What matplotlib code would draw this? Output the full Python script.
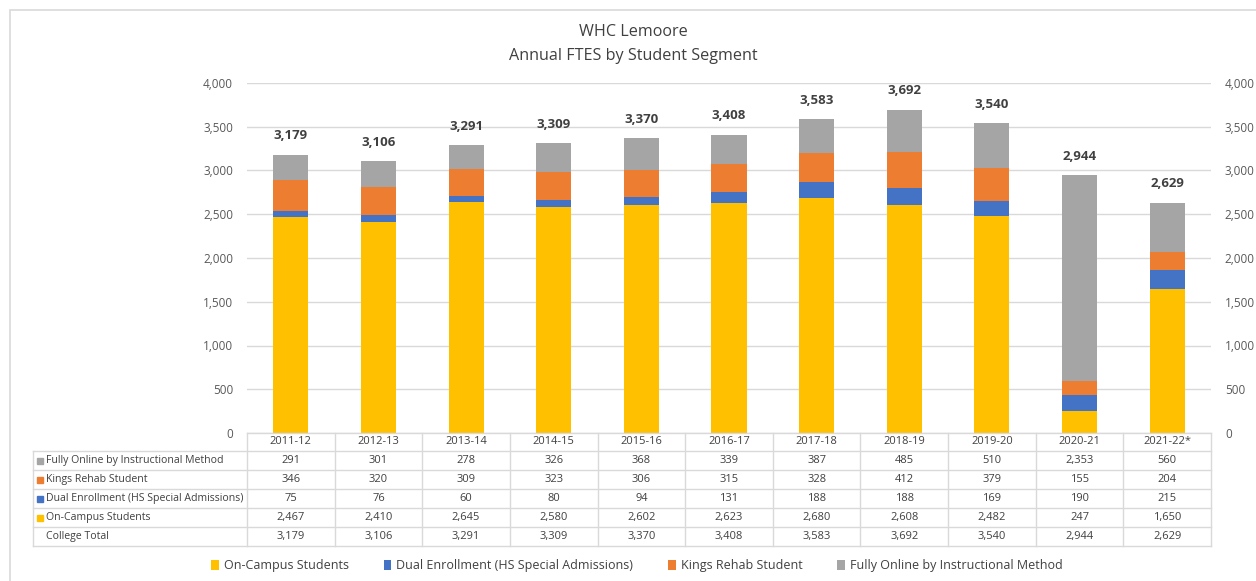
import matplotlib
matplotlib.use("Agg")
import matplotlib.pyplot as plt
from matplotlib.transforms import blended_transform_factory
from matplotlib.patches import Rectangle
import numpy as np

plt.rcParams['font.family'] = ['Open Sans', 'DejaVu Sans']

years = ["2011-12", "2012-13", "2013-14", "2014-15", "2015-16", "2016-17",
         "2017-18", "2018-19", "2019-20", "2020-21", "2021-22*"]
on_campus = [2467, 2410, 2645, 2580, 2602, 2623, 2680, 2608, 2482, 247, 1650]
dual = [75, 76, 60, 80, 94, 131, 188, 188, 169, 190, 215]
kings = [346, 320, 309, 323, 306, 315, 328, 412, 379, 155, 204]
online = [291, 301, 278, 326, 368, 339, 387, 485, 510, 2353, 560]
totals = [3179, 3106, 3291, 3309, 3370, 3408, 3583, 3692, 3540, 2944, 2629]

series_names = ["On-Campus Students", "Dual Enrollment (HS Special Admissions)",
                "Kings Rehab Student", "Fully Online by Instructional Method"]
colors = ["#FFC000", "#4472C4", "#ED7D31", "#A5A5A5"]
yticks = [0, 500, 1000, 1500, 2000, 2500, 3000, 3500, 4000]

W, H = 1256, 581
fig = plt.figure(figsize=(W / 100, H / 100), dpi=100)

def fx(px):
    return px / W

def fy(py):
    return 1 - py / H

# outer chart border (left & top visible)
fig.patches.append(Rectangle((fx(10), fy(600)), fx(1300), fy(10) - fy(600),
                             transform=fig.transFigure, fill=False,
                             edgecolor="#D9D9D9", linewidth=1.2))

ax = fig.add_axes([fx(247), fy(433), fx(1211) - fx(247), fy(83) - fy(433)])
n = len(years)
x = np.arange(n)
data = [on_campus, dual, kings, online]
bottom = np.zeros(n)
for vals, c, name in zip(data, colors, series_names):
    ax.bar(x, vals, width=0.4, bottom=bottom, color=c, label=name, zorder=3)
    bottom += np.array(vals)

for xi, t in zip(x, totals):
    ax.annotate(f"{t:,}", (xi, t), xytext=(0, 9), textcoords="offset points",
                ha="center", va="bottom", fontsize=9.5, fontweight="bold",
                color="#404040")

ax.set_xlim(-0.5, n - 0.5)
ax.set_ylim(0, 4000)
ax.set_yticks(yticks)
ax.set_yticklabels([f"{v:,}" for v in yticks])
ax.yaxis.grid(True, color="#D9D9D9", linewidth=1, zorder=0)
ax.tick_params(axis="y", length=0, labelsize=8.5, labelcolor="#595959", pad=10)
ax.set_xticks([])
for s in ax.spines.values():
    s.set_visible(False)

ax2 = ax.twinx()
ax2.set_ylim(0, 4000)
ax2.set_yticks(yticks)
ax2.set_yticklabels([f"{v:,}" for v in yticks])
ax2.tick_params(axis="y", length=0, labelsize=8.5, labelcolor="#595959", pad=10)
for s in ax2.spines.values():
    s.set_visible(False)

fig.text(fx(633), fy(32), "WHC Lemoore", ha="center", va="center", fontsize=11.6,
         color="#404040")
fig.text(fx(633), fy(56), "Annual FTES by Student Segment", ha="center", va="center",
         fontsize=11.6, color="#404040")

# data table
tr = blended_transform_factory(ax.transData, fig.transFigure)
line_c = "#D9D9D9"
row_lines = [433, 451, 470, 489, 508, 527, 546]
lc = dict(color=line_c, linewidth=1, clip_on=False)
fig.add_artist(plt.Line2D([fx(247), fx(1211)], [fy(433), fy(433)],
                          transform=fig.transFigure, **lc))
for py in row_lines[1:]:
    fig.add_artist(plt.Line2D([fx(33), fx(1211)], [fy(py), fy(py)],
                              transform=fig.transFigure, **lc))
for b in np.arange(n + 1) - 0.5:
    fig.add_artist(plt.Line2D([b, b], [fy(433), fy(546)], transform=tr, **lc))
fig.add_artist(plt.Line2D([fx(33), fx(33)], [fy(451), fy(546)],
                          transform=fig.transFigure, **lc))

txt_c = "#404040"
for xi, yr in zip(x, years):
    fig.text(xi, fy(442), yr, transform=tr, ha="center", va="center",
             fontsize=8, color=txt_c)

table_rows = [("Fully Online by Instructional Method", online, colors[3]),
              ("Kings Rehab Student", kings, colors[2]),
              ("Dual Enrollment (HS Special Admissions)", dual, colors[1]),
              ("On-Campus Students", on_campus, colors[0]),
              ("College Total", totals, None)]
for i, (label, vals, c) in enumerate(table_rows):
    yc = fy((row_lines[i + 1] + row_lines[i + 2]) / 2)
    if c is not None:
        fig.patches.append(Rectangle((fx(37), yc - 3 / H), 6 / W, 6 / H,
                                     transform=fig.transFigure, color=c))
    fig.text(fx(46), yc, label, ha="left", va="center", fontsize=7.6, color=txt_c)
    for xi, v in zip(x, vals):
        fig.text(xi, yc, f"{v:,}", transform=tr, ha="center", va="center",
                 fontsize=8, color=txt_c)

# legend
handles, labels = ax.get_legend_handles_labels()
fig.legend(handles, labels, loc="center", bbox_to_anchor=(fx(637), fy(566)),
           ncol=4, frameon=False, fontsize=9, handlelength=0.6, handleheight=0.9,
           handletextpad=0.4, columnspacing=2.8, labelcolor="#404040")

fig.savefig("out.png", dpi=100, facecolor="white")
